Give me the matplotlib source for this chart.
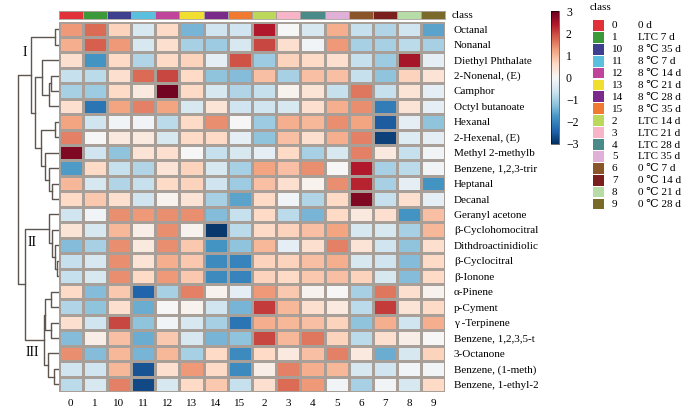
import numpy as np
import matplotlib
matplotlib.use("Agg")
import matplotlib.pyplot as plt
from matplotlib.colors import ListedColormap
from matplotlib.patches import Rectangle

plt.rcParams["font.family"] = ["Liberation Serif", "DejaVu Serif"]

# --- datos ---
columnas = ["0", "1", "10", "11", "12", "13", "14", "15", "2", "3", "4", "5", "6", "7", "8", "9"]

compuestos = [
    "Octanal", "Nonanal", "Diethyl Phthalate", "2-Nonenal, (E)", "Camphor",
    "Octyl butanoate", "Hexanal", "2-Hexenal, (E)", "Methyl 2-methylb",
    "Benzene, 1,2,3-trir", "Heptanal", "Decanal", "Geranyl acetone",
    "β-Cyclohomocitral", "Dithdroactinidiolic", "β-Cyclocitral", "β-Ionone",
    "α-Pinene", "p-Cyment", "γ -Terpinene", "Benzene, 1,2,3,5-t", "3-Octanone",
    "Benzene, (1-meth)", "Benzene, 1-ethyl-2",
]

# columnas en el orden 0,1,10,11,12,13,14,15,2,3,4,5,6,7,8,9
valores = np.array([
    [1.3, 1.7, 0.7, -0.5, 0.6, -1.4, -0.6, -0.6, 2.4, 0.0, -0.5, 1.1, -0.7, -0.9, -0.6, -1.6],
    [1.1, 1.8, 1.3, -0.5, 0.5, -1.0, -1.1, -0.5, 2.0, 0.5, -0.1, 1.3, -1.0, -1.0, -0.8, -1.0],
    [0.5, -1.8, 0.6, -0.9, 0.6, 0.7, -0.3, 1.9, -1.1, 0.7, 0.6, 0.5, -0.7, -1.1, 2.5, -0.3],
    [-0.7, -0.8, 0.5, 1.7, 2.0, 0.6, -1.2, -1.3, 0.9, -1.0, 0.9, 0.9, -0.7, -1.2, 0.7, 0.4],
    [-1.0, -1.1, 0.6, 0.3, 2.9, 0.6, -0.5, -0.9, -0.7, 0.1, 0.4, -0.7, 1.6, -0.7, 0.4, -0.3],
    [0.5, -2.2, 1.2, 1.5, 1.2, -0.5, 0.4, -0.6, -0.6, -0.5, 0.5, 1.1, 1.4, -2.1, 0.4, -0.3],
    [1.2, -0.6, -0.1, -0.1, -0.8, 0.6, 1.4, 0.0, -1.1, 1.1, 1.0, 1.4, 1.2, -2.5, -0.3, -1.2],
    [1.5, 0.0, 0.3, 0.3, -0.5, 0.6, 0.6, -0.3, -1.2, 0.9, 0.5, 1.1, 1.5, -2.8, -0.4, -0.3],
    [2.8, -0.6, -1.2, 0.4, 0.5, 0.0, -0.7, -0.5, -0.3, 0.6, -1.0, -0.5, 1.5, 0.3, -0.7, -0.1],
    [-1.7, 0.6, -0.7, -0.9, 0.4, 0.7, -0.5, -1.0, 1.2, 0.9, 1.4, 0.0, 2.4, -1.0, -0.8, -0.1],
    [1.0, -0.5, -0.9, -0.7, 0.6, 0.7, -0.6, -1.1, 0.9, 0.5, 0.1, 1.4, 2.3, -1.0, -0.3, -1.8],
    [0.6, 0.8, 0.5, -0.6, 0.1, 0.4, -1.0, -1.6, 0.6, -0.1, -0.9, 0.6, 2.8, -0.7, 0.5, -0.3],
    [-0.6, -0.1, 1.4, 1.3, 1.4, 1.4, -1.3, -0.7, 0.6, -0.8, -1.4, 0.6, 0.3, 0.5, -1.8, 0.9],
    [0.4, -0.5, 1.0, 0.2, 1.4, 0.1, -2.9, -0.8, 0.6, 0.7, 0.9, 1.2, -0.5, -0.5, -1.0, 1.0],
    [-1.3, -1.0, 1.4, 0.3, 1.4, 0.8, -1.8, -1.2, 1.0, -0.3, 0.5, 1.5, 0.4, -0.6, -1.2, 0.5],
    [-0.7, -0.5, 1.4, 0.4, 1.1, 0.8, -1.9, -2.0, 0.7, 0.7, 0.9, 1.1, -0.5, -0.6, -1.3, 0.6],
    [-0.7, -0.5, 1.4, 0.6, 1.3, 0.8, -1.9, -2.0, 0.7, 0.6, 0.8, 0.9, 0.7, -0.5, -1.3, 0.6],
    [0.6, -1.3, 0.8, -2.4, -1.0, 1.5, 0.1, -0.3, 1.3, 0.8, 0.1, 0.0, -1.0, 1.6, 0.5, 0.1],
    [-0.9, -1.2, 0.5, -1.5, 0.0, 0.1, -0.6, -1.4, 2.1, 1.0, 0.5, 0.3, -0.8, 2.1, 0.4, 0.6],
    [0.5, -0.6, 2.0, -1.2, -0.1, -0.5, -1.0, -2.2, 1.1, 1.0, 0.9, 0.7, -1.2, 1.1, -0.6, 1.1],
    [-1.3, 0.2, 0.9, -1.5, 0.8, -0.5, -1.4, -1.2, 2.0, 1.0, 1.6, 0.7, -0.8, 0.5, 0.2, 0.0],
    [1.4, -1.3, 1.0, -1.4, 1.0, -1.0, 0.6, -1.9, 0.6, 0.3, 0.9, 1.5, 0.3, -1.5, -0.5, 0.7],
    [-0.6, -0.6, 1.0, -2.6, 0.5, 1.3, 0.6, -1.9, 0.2, 1.5, 1.1, 1.0, -0.5, -0.6, -0.1, -0.1],
    [-0.8, -0.5, 1.5, -2.7, -0.5, 0.6, 0.8, -0.7, 0.5, 1.7, 1.3, -0.1, -1.0, -0.1, -0.5, 0.6],
])

colores_clase = ["#e0303a", "#3a9a3a", "#3f3f8f", "#5bc0de", "#c0449a", "#f0de30",
                 "#7a2a8a", "#f07a30", "#bcd85a", "#f8b4c8", "#4a8a88", "#e0b0d8",
                 "#8a5528", "#7a1e1e", "#b8dca8", "#7a6a2a"]
nombres_clase = ["0 d", "LTC 7 d", "8 ℃ 35 d", "8 ℃ 7 d", "8 ℃ 14 d", "8 ℃ 21 d",
                 "8 ℃ 28 d", "8 ℃ 35 d", "LTC 14 d", "LTC 21 d", "LTC 28 d",
                 "LTC 35 d", "0 ℃ 7 d", "0 ℃ 14 d", "0 ℃ 21 d", "0 ℃ 28 d"]

# dendrograma de filas: (hijo_a, hijo_b, altura); nodos nuevos numerados desde 24
enlaces = [
    (0, 1, 4), (3, 4, 8), (25, 5, 10), (2, 26, 17), (6, 7, 4), (10, 11, 7),
    (9, 29, 10), (8, 30, 14), (28, 31, 18), (27, 32, 24), (24, 33, 28),
    (15, 16, 2), (14, 35, 4), (13, 36, 7), (12, 37, 10),
    (17, 18, 8), (19, 20, 8), (39, 40, 14), (22, 23, 5), (21, 42, 11), (41, 43, 15),
    (38, 44, 34), (34, 45, 41),
]
grupos = {"I": (25, 53), "II": (32, 243), "III": (32, 353)}

# --- figura ---
W, H = 700, 407
fig = plt.figure(figsize=(W / 100, H / 100), dpi=100)


def caja(x0, y0, x1, y1):
    return [x0 / W, 1 - y1 / H, (x1 - x0) / W, (y1 - y0) / H]


n_filas, n_cols = valores.shape
borde = "#a89f98"

ax = fig.add_axes(caja(58.5, 21.5, 445.5, 392))
malla = ax.pcolormesh(valores, cmap="RdBu_r", vmin=-3, vmax=3,
                      edgecolors=borde, linewidth=0.8)
ax.set_xlim(0, n_cols)
ax.set_ylim(n_filas, 0)
ax.set_xticks(np.arange(n_cols) + 0.5)
ax.set_xticklabels(columnas, fontsize=8)
ax.yaxis.tick_right()
ax.set_yticks(np.arange(n_filas) + 0.5)
ax.set_yticklabels(compuestos, fontsize=8)
ax.tick_params(length=0, pad=5)
ax.tick_params(axis="y", pad=6)
for s in ax.spines.values():
    s.set_visible(False)

# barra de clases arriba
ax_c = fig.add_axes(caja(58.5, 11, 445.5, 19))
ax_c.pcolormesh(np.arange(n_cols).reshape(1, -1), cmap=ListedColormap(colores_clase),
                vmin=-0.5, vmax=n_cols - 0.5, edgecolors=borde, linewidth=0.5)
ax_c.set_xticks([])
ax_c.set_yticks([])
for s in ax_c.spines.values():
    s.set_edgecolor(borde)
    s.set_linewidth(0.6)
fig.text(452 / W, 1 - 15 / H, "class", fontsize=8, va="center")

# dendrograma
ax_d = fig.add_axes(caja(10, 21.5, 58.5, 392))
pos = {i: (0.0, i + 0.5) for i in range(n_filas)}
for k, (a, b, h) in enumerate(enlaces):
    xa, ya = pos[a]
    xb, yb = pos[b]
    ax_d.plot([xa, h, h, xb], [ya, ya, yb, yb], color="#5e5650", lw=1)
    pos[n_filas + k] = (h, (ya + yb) / 2)
ax_d.set_xlim(48.5, 0)
ax_d.set_ylim(n_filas, 0)
ax_d.axis("off")
for g, (gx, gy) in grupos.items():
    fig.text(gx / W, 1 - gy / H, g, fontsize=10, ha="center", va="center")

# barra de color
ax_cb = fig.add_axes(caja(551, 11, 559, 144))
cb = fig.colorbar(malla, cax=ax_cb, ticks=[3, 2, 1, 0, -1, -2, -3])
cb.ax.tick_params(labelsize=8.5, length=0, pad=5)
cb.outline.set_linewidth(0.4)

# leyenda de clases
fig.text(600 / W, 1 - 8 / H, "class", fontsize=8, ha="center", va="center")
for i, (num, col, nom) in enumerate(zip(columnas, colores_clase, nombres_clase)):
    y_top = 20 + i * 11.9
    fig.add_artist(Rectangle((593 / W, 1 - (y_top + 10.8) / H), 11 / W, 10.8 / H,
                             transform=fig.transFigure, facecolor=col,
                             edgecolor="none"))
    yc = 1 - (y_top + 6) / H
    fig.text(612 / W, yc, num, fontsize=8, va="center")
    fig.text(638 / W, yc, nom, fontsize=8, va="center")

fig.savefig("out.png", dpi=100)
